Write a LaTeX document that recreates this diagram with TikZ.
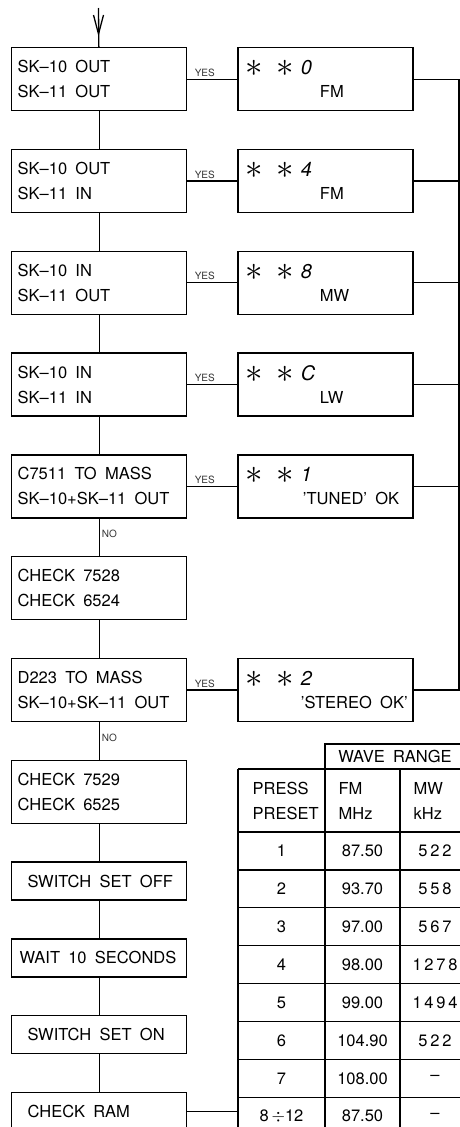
\documentclass[tikz,border=0pt]{standalone}
\usepackage{fontspec}
\setmainfont{TeX Gyre Heros}
\usetikzlibrary{positioning}

\newcommand{\gap}{\hspace{0.5em}}
\newcommand{\astr}{\raisebox{-2pt}{\scalebox{1.4}{\Huge$\ast$}}}
\newcommand{\readout}[1]{\hspace*{-2pt}\astr\hspace{13pt}\astr\hspace{7pt}{\fontsize{20}{20}\selectfont\textit{#1}}}

\begin{document}
\begin{tikzpicture}[x=1pt, y=-1pt, line width=1.3pt, node distance=37.5pt]
\tikzstyle{lbox}=[draw, text width=163pt, inner xsep=6pt, align=left, minimum height=63pt, font=\fontsize{16.5}{25}\selectfont]
\tikzstyle{sbox}=[draw, text width=159pt, inner xsep=8pt, align=left, minimum height=38pt, font=\fontsize{16.5}{25}\selectfont]
\tikzstyle{rbox}=[draw, text width=155pt, inner xsep=10pt, align=left, minimum height=63pt, font=\fontsize{16.5}{23}\selectfont]
\tikzstyle{tag}=[font=\fontsize{10}{10}\selectfont, text=black!80, inner sep=2pt]
\tikzstyle{cell}=[font=\fontsize{16.5}{25}\selectfont]

\useasboundingbox (0,0) rectangle (460,1127);

% test sequence
\node[lbox, anchor=north west] (b1) at (11,47) {SK--10\gap OUT\\SK--11\gap OUT};
\node[lbox] (b2) [below=of b1] {SK--10\gap OUT\\SK--11\gap IN};
\node[lbox] (b3) [below=of b2] {SK--10\gap IN\\SK--11\gap OUT};
\node[lbox] (b4) [below=of b3] {SK--10\gap IN\\SK--11\gap IN};
\node[lbox] (b5) [below=of b4] {C7511\gap TO\gap MASS\\SK--10+SK--11\gap OUT};
\node[lbox] (b6) [below=of b5] {CHECK\gap 7528\\CHECK\gap 6524};
\node[lbox] (b7) [below=of b6] {D223\gap TO\gap MASS\\SK--10+SK--11\gap OUT};
\node[lbox] (b8) [below=of b7] {CHECK\gap 7529\\CHECK\gap 6525};
\node[sbox] (b9) [below=of b8] {\hspace*{8pt}SWITCH\gap SET\gap OFF};
\node[sbox] (b10) [below=of b9] {WAIT\gap 10\gap SECONDS};
\node[sbox] (b11) [below=of b10] {\hspace*{8pt}SWITCH\gap SET\gap ON};
\node[sbox] (b12) [below=of b11] {\hspace*{8pt}CHECK\gap RAM};

% display readouts
\node[rbox] (d1) [right=50pt of b1] {\readout{0}\\\hspace*{72pt}FM};
\node[rbox] (d2) [right=50pt of b2] {\readout{4}\\\hspace*{72pt}FM};
\node[rbox] (d3) [right=50pt of b3] {\readout{8}\\\hspace*{72pt}MW};
\node[rbox] (d4) [right=50pt of b4] {\readout{C}\\\hspace*{72pt}LW};
\node[rbox] (d5) [right=50pt of b5] {\readout{1}\\\hspace*{55pt}\mbox{'TUNED'\gap OK}};
\node[rbox] (d6) [right=50pt of b7] {\readout{2}\\\hspace*{53pt}\mbox{'STEREO\gap OK'}};

\coordinate (entry) at (98.5,8);
\coordinate (bus) at (459,0);
\coordinate (tab) at (238,769);

\draw (entry) -- (b1);
\draw (entry) ++(-5,7) -- ++(5,19) -- ++(5,-19);

\foreach \a/\b in {b1/b2, b2/b3, b3/b4, b4/b5, b6/b7, b8/b9, b9/b10, b10/b11, b11/b12}
  \draw (\a) -- (\b);
\draw (b5) -- node[tag, right, pos=0.42] {NO} (b6);
\draw (b7) -- node[tag, right, pos=0.42] {NO} (b8);

\foreach \a/\b in {b1/d1, b2/d2, b3/d3, b4/d4, b5/d5, b7/d6}
  \draw (\a) -- node[tag, above, pos=0.35] {YES} (\b);

\draw (d1.east) -- (d1.east -| bus) -- (d6.east -| bus) -- (d6.east);
\foreach \d in {d2, d3, d4, d5}
  \draw (\d.east) -- (\d.east -| bus);

\draw (b12) -- (b12 -| tab);

% preset table
\draw (325,769) |- (475,744);
\node[cell] (wave) at (395,756.5) {WAVE\gap RANGE};
\draw (tab) -- (475,769);
\foreach \x in {238, 325, 400}
  \draw (\x,769) -- (\x,1135);
\foreach \i in {0,...,7}
  \draw (238,{832+37.9*\i}) -- (475,{832+37.9*\i});

\node[cell, anchor=west, align=left, inner xsep=0pt] (hp) at (252,800.5) {PRESS\\PRESET};
\node[cell, anchor=west, align=left, inner xsep=0pt] (hf) at (338,800.5) {FM\\MHz};
\node[cell, anchor=west, align=left, inner xsep=0pt] (hm) at (413,800.5) {MW\\kHz};

\foreach \p/\f/\m [count=\i from 0] in {1/87.50/5\,2\,2, 2/93.70/5\,5\,8, 3/97.00/5\,6\,7,
    4/98.00/1\,2\,7\,8, 5/99.00/1\,4\,9\,4, 6/104.90/5\,2\,2, 7/108.00/--, 8\,$\div$12/87.50/--}
{
  \node[cell] (p\i) at (281.5,{850.95+37.9*\i}) {\p};
  \node[cell] (f\i) at (362.5,{850.95+37.9*\i}) {\f};
  \node[cell] (m\i) at (435,{850.95+37.9*\i}) {\m};
}
\end{tikzpicture}
\end{document}
